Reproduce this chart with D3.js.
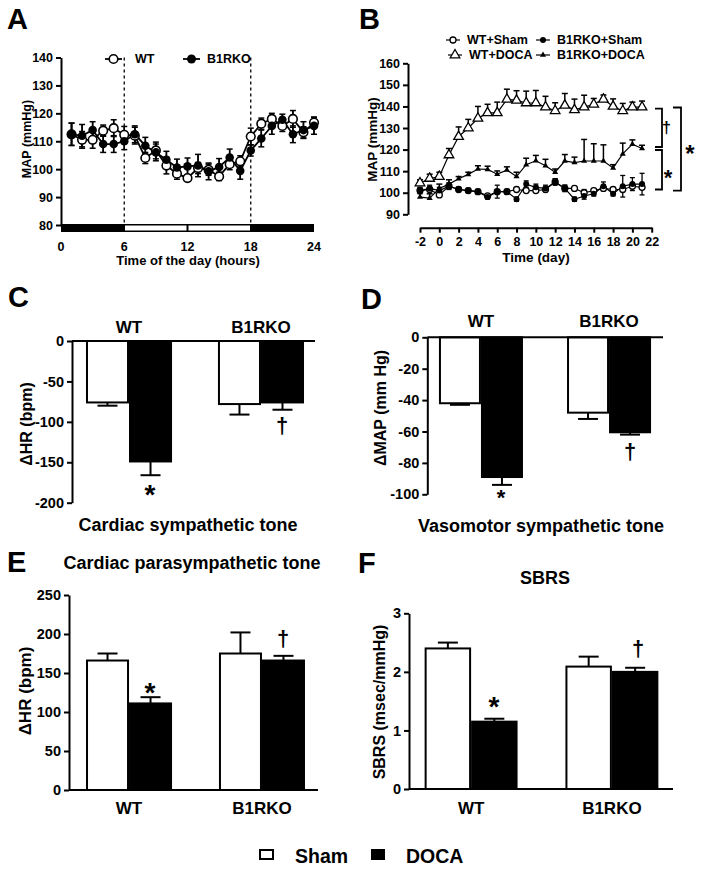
<!DOCTYPE html>
<html><head><meta charset="utf-8">
<script src="https://cdn.jsdelivr.net/npm/d3@7"></script>
<style>
body{margin:0;background:#fff;}
svg text{font-family:'Liberation Sans',Arial,Helvetica,sans-serif;font-weight:bold;fill:#000;}
</style></head>
<body><svg id="c" width="704" height="871"></svg>
<script>
// ---------- Panel A data ----------
const hoursA = [1,2,3,4,5,6,7,8,9,10,11,12,13,14,15,16,17,18,19,20,21,22,23,24];
const wtA    = [112.5,110.5,110.5,113.8,114.7,112.3,112,104,106.7,101.3,98.4,96.8,100.4,99.8,97.4,101.8,102.8,111.7,116.3,118,115.5,118,113.2,116.7];
const wtAErr = [4,3,3,2,3,3,3,2,3,3,2,1,2,2,1.5,2,2,3,2,2,2,3,2,2];
const koA    = [112.5,112,114,109,109,110,112.5,108.4,106,103.4,100.6,101,101.3,99.2,100.8,104.2,99.4,106.7,111,115.5,117.7,112.5,114,115.5];
const koAErr = [4,4,3,3,3,3,3,3,3,3,3,3,4,3,3,3,3,2,3,3,2,3,3,3];
const aYTicks = [80,90,100,110,120,130,140];
const aXTicks = [0,6,12,18,24];

// ---------- Panel B data ----------
const daysB = [-2,-1,0,1,2,3,4,5,6,7,8,9,10,11,12,13,14,15,16,17,18,19,20,21];
const wtSham    = [101,101.5,99,103,101.5,101,100.5,98.5,100.5,100.5,101.5,101,101,101.5,105,102,102,100,101,102,101.5,101.5,103,102.5];
const wtShamErr = [1.5,1.5,1.5,1.5,1,1,1,1,1,1,1,1,1,1,1.5,1.5,1,1.5,1,1.5,1,1.5,1.5,1.5];
const koSham    = [101,102,101,103,101.5,101,100.5,98,100.5,100.5,97,104,102.5,102,105,102,97,98.5,99.5,103,99.5,103,104,104];
const koShamErr = [1.5,1.5,1.5,1.5,1,1,1,1,3,1,1,1.5,1.5,1.5,1.5,1.5,1,1.5,1,2,1,5,3,5];
const wtDoca    = [104.5,106.6,107.5,117.5,126,130,134.5,137,137,143.3,142.8,141.6,141.6,139.7,138,140.5,138.4,139.7,141,143.3,140,138,139.7,139.7];
const wtDocaErr = [1.5,2,2,3,4.5,4,5.5,4,5,4.7,4.5,5.5,5.8,5,3.7,5.5,5,5.5,2.7,2,3.5,3.4,2.3,2.8];
const koDoca    = [98,97.5,102,104,106.5,108.5,111,110.8,108.6,110.5,107.5,113,114.8,112.5,109.5,114.7,114,114.7,114.7,114.7,111.5,118,122.5,120.5];
const koDocaErr = [2,2,2,2,1,1,1.5,1.5,1.5,1.5,2,3,2.5,3,1.5,3,2.5,10,8,7.5,1.5,5,2,1.5];
const bYTicks = [90,100,110,120,130,140,150,160];
const bXTicks = [-2,0,2,4,6,8,10,12,14,16,18,20,22];

// ---------- Bar panels ----------
const groups = ["WT","B1RKO"];
const cSham = [-76,-78],  cShamErr = [4,13];
const cDoca = [-149,-76], cDocaErr = [17,9];
const cTicks = [0,-50,-100,-150,-200];
const dSham = [-42,-48],  dShamErr = [1,4];
const dDoca = [-89,-60.5],dDocaErr = [5,1.5];
const dTicks = [0,-20,-40,-60,-80,-100];
const eSham = [166,175],  eShamErr = [9,27];
const eDoca = [111,166],  eDocaErr = [8,6];
const eTicks = [0,50,100,150,200,250];
const fSham = [2.4,2.09], fShamErr = [0.1,0.17];
const fDoca = [1.15,2.0], fDocaErr = [0.05,0.07];
const fTicks = [0,1,2,3];

const svg = d3.select("#c");

function txt(x,y,s,size,anchor="middle",rot=null){
  const t = svg.append("text").attr("x",x).attr("y",y).attr("font-size",size)
    .attr("text-anchor",anchor).attr("dominant-baseline","central").text(s);
  if(rot!==null) t.attr("transform",`rotate(${rot},${x},${y})`);
  return t;
}
function styleAxis(g,fs){
  g.selectAll("path.domain").attr("stroke","#000").attr("stroke-width",2);
  g.selectAll(".tick line").attr("stroke","#000").attr("stroke-width",2);
  g.selectAll(".tick text").attr("font-size",fs).attr("fill","#000")
    .style("font-family","'Liberation Sans',Arial,sans-serif").style("font-weight","bold");
}
function errBar(g,x,y1,y2,hw,sw=1.5){
  g.append("line").attr("x1",x).attr("x2",x).attr("y1",y1).attr("y2",y2).attr("stroke","#000").attr("stroke-width",sw);
  g.append("line").attr("x1",x-hw).attr("x2",x+hw).attr("y1",y2).attr("y2",y2).attr("stroke","#000").attr("stroke-width",sw);
}

// ---------- Panel letters ----------
[["A",7,19],["B",359,19],["C",8,297],["D",361,299],["E",7,562],["F",358,563]].forEach(d=>txt(d[1],d[2],d[0],29,"start"));

// ================= Panel A =================
{
  const x = d3.scaleLinear().domain([0,24]).range([61,314]);
  const y = d3.scaleLinear().domain([80,140]).range([225,57.5]);
  const g = svg.append("g");
  [6,18].forEach(h=>g.append("line").attr("x1",x(h)).attr("x2",x(h)).attr("y1",y(140)).attr("y2",y(80))
    .attr("stroke","#000").attr("stroke-width",1.3).attr("stroke-dasharray","3,3"));
  const ax = svg.append("g").attr("transform","translate(61,0)")
    .call(d3.axisLeft(y).tickValues(aYTicks).tickSize(5).tickSizeOuter(0).tickPadding(3));
  styleAxis(ax,12.5);
  const by = y(80)-1, bh = 8;
  g.append("rect").attr("x",x(0)).attr("y",by).attr("width",x(6)-x(0)).attr("height",bh).attr("fill","#000");
  g.append("rect").attr("x",x(18)).attr("y",by).attr("width",x(24)-x(18)).attr("height",bh).attr("fill","#000");
  g.append("rect").attr("x",x(6)).attr("y",by+0.75).attr("width",x(18)-x(6)).attr("height",bh-1.5)
    .attr("fill","#fff").attr("stroke","#000").attr("stroke-width",1.5);
  g.append("line").attr("x1",x(12)).attr("x2",x(12)).attr("y1",by).attr("y2",by+bh).attr("stroke","#000").attr("stroke-width",2);
  aXTicks.forEach(t=>txt(x(t),247,t,12.5));
  txt(188,260,"Time of the day (hours)",13);
  txt(27,139,"MAP (mmHg)",12.5,"middle",-90);
  const line = d3.line().x((d,i)=>x(hoursA[i])).y(d=>y(d));
  g.append("path").attr("d",line(koA)).attr("fill","none").attr("stroke","#000").attr("stroke-width",1.8);
  g.append("path").attr("d",line(wtA)).attr("fill","none").attr("stroke","#000").attr("stroke-width",1.8);
  hoursA.forEach((h,i)=>{
    errBar(g,x(h),y(wtA[i]-wtAErr[i]),y(wtA[i]+wtAErr[i]),3);
    errBar(g,x(h),y(wtA[i]+wtAErr[i]),y(wtA[i]-wtAErr[i]),3);
    errBar(g,x(h),y(koA[i]-koAErr[i]),y(koA[i]+koAErr[i]),3);
    errBar(g,x(h),y(koA[i]+koAErr[i]),y(koA[i]-koAErr[i]),3);
  });
  hoursA.forEach((h,i)=>g.append("circle").attr("cx",x(h)).attr("cy",y(wtA[i])).attr("r",4.3).attr("fill","#fff").attr("stroke","#000").attr("stroke-width",1.6));
  hoursA.forEach((h,i)=>g.append("circle").attr("cx",x(h)).attr("cy",y(koA[i])).attr("r",4.3).attr("fill","#000"));
  g.append("line").attr("x1",105).attr("x2",122).attr("y1",59).attr("y2",59).attr("stroke","#000").attr("stroke-width",1.8);
  g.append("circle").attr("cx",113.5).attr("cy",59).attr("r",4.3).attr("fill","#fff").attr("stroke","#000").attr("stroke-width",1.6);
  txt(135,59,"WT",12.5,"start");
  g.append("line").attr("x1",183).attr("x2",200).attr("y1",59).attr("y2",59).attr("stroke","#000").attr("stroke-width",1.8);
  g.append("circle").attr("cx",191.5).attr("cy",59).attr("r",4.5).attr("fill","#000");
  txt(207,59,"B1RKO",12.5,"start");
}

// ================= Panel B =================
{
  const x = d3.scaleLinear().domain([-2,22]).range([420,651.7]);
  const y = d3.scaleLinear().domain([90,160]).range([214.3,63.3]);
  const g = svg.append("g");
  const ay = svg.append("g").attr("transform","translate(408,0)")
    .call(d3.axisLeft(y).tickValues(bYTicks).tickSize(5).tickSizeOuter(0).tickPadding(3));
  styleAxis(ay,12.5);
  const axb = svg.append("g").attr("transform","translate(0,227.7)")
    .call(d3.axisBottom(x).tickValues(bXTicks).tickSize(5).tickSizeOuter(0).tickPadding(4).tickFormat(d3.format("d")));
  styleAxis(axb,12.5);
  axb.selectAll(".tick text").text(d=>String(d).replace("−","-"));
  txt(536,257,"Time (day)",13.5);
  txt(372,139.5,"MAP (mmHg)",13.5,"middle",-90);
  const line = d3.line().x((d,i)=>x(daysB[i])).y(d=>y(d));
  [koDoca,wtDoca,koSham,wtSham].forEach(s=>g.append("path").attr("d",line(s)).attr("fill","none").attr("stroke","#000").attr("stroke-width",1.2));
  daysB.forEach((d,i)=>{
    errBar(g,x(d),y(wtDoca[i]),y(wtDoca[i]+wtDocaErr[i]),3,1.5);
    errBar(g,x(d),y(koDoca[i]),y(koDoca[i]+koDocaErr[i]),3,1.5);
    errBar(g,x(d),y(wtSham[i]-wtShamErr[i]),y(wtSham[i]+wtShamErr[i]),2.5,1.3);
    errBar(g,x(d),y(koSham[i]),y(koSham[i]+koShamErr[i]),2.5,1.3);
    errBar(g,x(d),y(koSham[i]),y(koSham[i]-koShamErr[i]),2.5,1.3);
  });
  const tri = d3.symbol().type(d3.symbolTriangle);
  daysB.forEach((d,i)=>{
    g.append("path").attr("d",tri.size(40)()).attr("transform",`translate(${x(d)},${y(wtDoca[i])})`).attr("fill","#fff").attr("stroke","#000").attr("stroke-width",1.3);
    g.append("path").attr("d",tri.size(16)()).attr("transform",`translate(${x(d)},${y(koDoca[i])})`).attr("fill","#000");
    g.append("circle").attr("cx",x(d)).attr("cy",y(wtSham[i])).attr("r",3).attr("fill","#fff").attr("stroke","#000").attr("stroke-width",1.3);
    g.append("circle").attr("cx",x(d)).attr("cy",y(koSham[i])).attr("r",3).attr("fill","#000");
  });
  const leg = [[453,40,"WT+Sham","oc"],[543,40,"B1RKO+Sham","fc"],[455,55,"WT+DOCA","ot"],[543,55,"B1RKO+DOCA","ft"]];
  leg.forEach(l=>{
    g.append("line").attr("x1",l[0]-7).attr("x2",l[0]+7).attr("y1",l[1]).attr("y2",l[1]).attr("stroke","#000").attr("stroke-width",1.2);
    if(l[3]==="oc") g.append("circle").attr("cx",l[0]).attr("cy",l[1]).attr("r",3).attr("fill","#fff").attr("stroke","#000").attr("stroke-width",1.3);
    if(l[3]==="fc") g.append("circle").attr("cx",l[0]).attr("cy",l[1]).attr("r",3).attr("fill","#000");
    if(l[3]==="ot") g.append("path").attr("d",tri.size(40)()).attr("transform",`translate(${l[0]},${l[1]})`).attr("fill","#fff").attr("stroke","#000").attr("stroke-width",1.3);
    if(l[3]==="ft") g.append("path").attr("d",tri.size(16)()).attr("transform",`translate(${l[0]},${l[1]})`).attr("fill","#000");
    txt(l[0]+14,l[1],l[2],12.5,"start");
  });
  const br = (x0,x1,v0,v1)=>g.append("path").attr("d",`M${x0},${y(v0)}H${x1}V${y(v1)}H${x0}`).attr("fill","none").attr("stroke","#000").attr("stroke-width",1.8);
  br(655,662,139,121.2);
  br(655,662,119.8,101.5);
  br(673,681,139.5,101);
  txt(666.5,y(130),"†",16).attr("transform",`rotate(0.01,666,${y(130)})`);
  txt(668,y(110),"*",22).attr("dy",6);
  txt(690,y(121),"*",24).attr("dy",6);
}

// ================= Bar panels =================
function barPanel(o){
  const g = svg.append("g");
  const xb = d3.scaleBand().domain(groups).range(o.xr).paddingInner(o.pi).paddingOuter(o.po);
  const xs = d3.scaleBand().domain(["Sham","DOCA"]).range([0,xb.bandwidth()]);
  const y = o.y;
  const ay = svg.append("g").attr("transform",`translate(${o.xr[0]},0)`)
    .call(d3.axisLeft(y).tickValues(o.ticks).tickSize(5).tickSizeOuter(0).tickPadding(3));
  styleAxis(ay,o.fs);
  ay.selectAll(".tick text").text(d=>String(d).replace("−","-"));
  groups.forEach((gr,i)=>{
    [["Sham",o.sham,o.shamErr,"#fff"],["DOCA",o.doca,o.docaErr,"#000"]].forEach(s=>{
      const v = s[1][i], e = s[2][i];
      const bx = xb(gr)+xs(s[0]);
      const cx = bx + xs.bandwidth()/2;
      const sign = v<0?-1:1;
      errBar(g,cx,y(v),y(v+sign*e),10,2);
      g.append("rect").attr("x",bx+1).attr("width",xs.bandwidth()-2)
        .attr("y",Math.min(y(0),y(v))).attr("height",Math.abs(y(v)-y(0)))
        .attr("fill",s[3]).attr("stroke","#000").attr("stroke-width",2);
    });
  });
  g.append("line").attr("x1",o.xr[0]).attr("x2",o.xEnd).attr("y1",y(0)).attr("y2",y(0)).attr("stroke","#000").attr("stroke-width",2);
  groups.forEach(gr=>txt(xb(gr)+xb.bandwidth()/2,o.glY,gr,17));
  return {xb,xs,y};
}

// C
{
  const y = d3.scaleLinear().domain([-200,0]).range([502.7,341]);
  barPanel({xr:[72,318],xEnd:315,pi:0.348,po:0.106,y,ticks:cTicks,fs:14.5,
    sham:cSham,shamErr:cShamErr,doca:cDoca,docaErr:cDocaErr,glY:327});
  txt(26,424,"ΔHR (bpm)",16,"middle",-90);
  txt(188,525,"Cardiac sympathetic tone",18);
  txt(150,488,"*",28).attr("dy",6.5);
  txt(282,425,"†",22);
}
// D
{
  const y = d3.scaleLinear().domain([-100,0]).range([494.3,337.3]);
  barPanel({xr:[427.3,662.7],xEnd:663,pi:0.344,po:0.091,y,ticks:dTicks,fs:14.5,
    sham:dSham,shamErr:dShamErr,doca:dDoca,docaErr:dDocaErr,glY:321.5});
  txt(380,408,"ΔMAP (mm Hg)",16,"middle",-90);
  txt(541,525.5,"Vasomotor sympathetic tone",18);
  txt(501,493,"*",22).attr("dy",4.5);
  txt(630,451,"†",22);
}
// E
{
  const y = d3.scaleLinear().domain([0,250]).range([790,595]);
  barPanel({xr:[69,322],xEnd:318,pi:0.353,po:0.128,y,ticks:eTicks,fs:14.5,
    sham:eSham,shamErr:eShamErr,doca:eDoca,docaErr:eDocaErr,glY:808});
  txt(25,691,"ΔHR (bpm)",17,"middle",-90);
  txt(192,563,"Cardiac parasympathetic tone",18);
  txt(150,686,"*",28).attr("dy",6.5);
  txt(283,638,"†",22);
}
// F
{
  const y = d3.scaleLinear().domain([0,3]).range([789,613.3]);
  barPanel({xr:[409,674],xEnd:673,pi:0.34,po:0.111,y,ticks:fTicks,fs:14.5,
    sham:fSham,shamErr:fShamErr,doca:fDoca,docaErr:fDocaErr,glY:808});
  txt(379,702,"SBRS (msec/mmHg)",16,"middle",-90);
  txt(545,578,"SBRS",18);
  txt(494,700,"*",28).attr("dy",6.5);
  txt(638,648,"†",22);
}

// ---------- bottom legend ----------
{
  const g = svg.append("g");
  g.append("rect").attr("x",260).attr("y",850).attr("width",13).attr("height",9).attr("fill","#fff").attr("stroke","#000").attr("stroke-width",2);
  txt(295,856,"Sham",19.5,"start");
  g.append("rect").attr("x",371).attr("y",849).attr("width",14).attr("height",11).attr("fill","#000");
  txt(406,856,"DOCA",19.5,"start");
}
</script></body></html>
